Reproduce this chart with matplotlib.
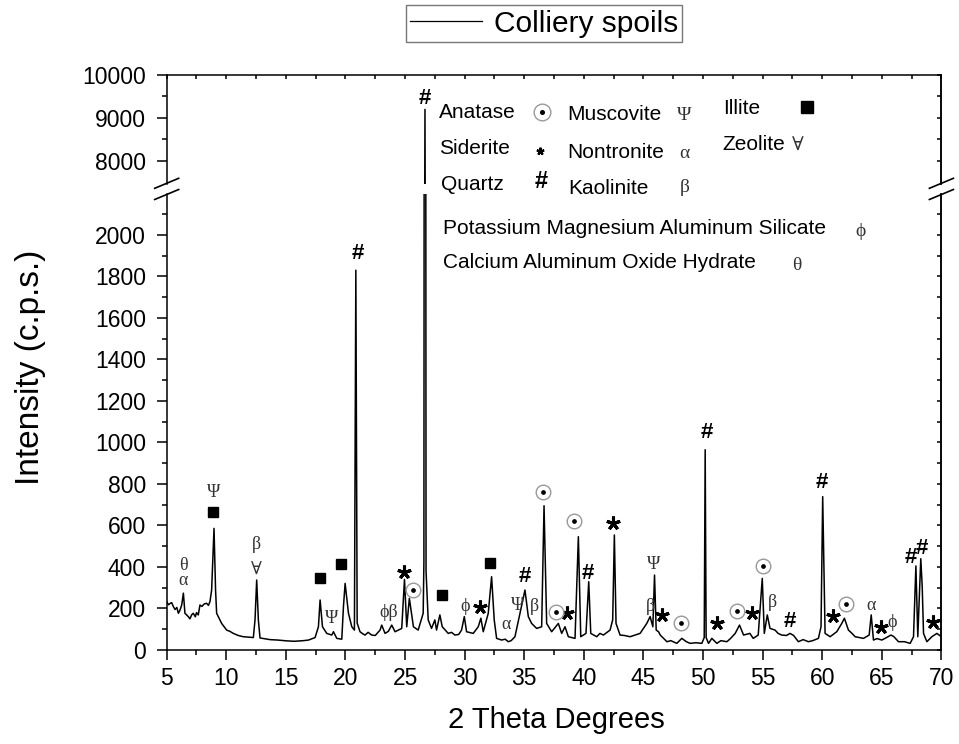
import matplotlib.pyplot as plt
from matplotlib.lines import Line2D
from matplotlib.ticker import FixedLocator, MultipleLocator

plt.rcParams['font.family'] = ['Liberation Sans', 'DejaVu Sans']
GREEK_FONT = ['Liberation Serif', 'DejaVu Serif']

# XRD pattern of the colliery spoils: (2-theta deg, counts)
pattern = [
    (5.0, 233), (5.15, 218), (5.3, 225), (5.42, 228), (5.56, 209), (5.7, 195),
    (5.85, 205), (5.98, 177), (6.1, 190), (6.26, 217), (6.4, 274), (6.53, 177),
    (6.81, 161), (6.95, 150), (7.1, 170), (7.23, 177), (7.4, 160), (7.5, 180),
    (7.65, 169), (7.79, 217), (7.95, 210), (8.15, 222), (8.35, 225), (8.5, 215),
    (8.63, 233), (8.77, 289), (8.97, 586), (9.1, 289), (9.19, 177), (9.61, 128),
    (9.85, 110), (10.03, 96), (10.3, 90), (10.59, 80), (11.0, 70), (11.43, 64),
    (12.27, 60), (12.41, 145), (12.55, 337), (12.69, 145), (12.83, 58), (13.67, 50),
    (14.3, 48), (15.07, 44), (15.7, 42), (16.47, 45), (16.9, 48), (17.45, 60),
    (17.73, 112), (17.87, 241), (18.07, 112), (18.43, 80), (18.85, 72), (18.99, 88),
    (19.27, 56), (19.69, 52), (19.83, 209), (19.97, 321), (20.25, 177), (20.53, 112),
    (20.75, 96), (20.87, 1830), (20.98, 130), (21.22, 88), (21.45, 78), (21.64, 72),
    (21.9, 85), (22.2, 72), (22.5, 70), (22.9, 96), (23.04, 120), (23.32, 80),
    (23.6, 90), (23.88, 120), (24.16, 88), (24.72, 104), (24.95, 340), (25.14, 112),
    (25.36, 249), (25.7, 112), (26.1, 96), (26.52, 177), (26.58, 420), (26.67, 9200),
    (26.76, 380), (26.94, 145), (27.22, 104), (27.5, 145), (27.64, 96), (27.92, 169),
    (28.12, 112), (28.62, 80), (28.9, 85), (29.18, 72), (29.5, 75), (29.74, 96),
    (29.97, 161), (30.16, 88), (30.72, 80), (31.14, 112), (31.36, 153), (31.56, 88),
    (31.98, 177), (32.26, 353), (32.48, 145), (32.68, 56), (33.1, 48), (33.4, 52),
    (33.66, 40), (33.9, 45), (34.22, 64), (34.64, 177), (35.06, 289), (35.34, 161),
    (35.62, 128), (36.04, 104), (36.46, 112), (36.66, 695), (36.88, 128), (37.3, 88),
    (37.86, 128), (38.14, 80), (38.42, 112), (38.7, 64), (39.26, 56), (39.54, 546),
    (39.74, 64), (40.18, 80), (40.41, 329), (40.58, 80), (41.08, 64), (41.35, 80),
    (41.64, 72), (42.2, 96), (42.42, 145), (42.56, 554), (42.7, 128), (43.04, 72),
    (43.4, 70), (43.88, 64), (44.3, 72), (44.72, 80), (45.28, 128), (45.56, 161),
    (45.79, 112), (45.93, 361), (46.07, 96), (46.27, 88), (46.41, 72), (46.97, 40),
    (47.3, 45), (47.8, 32), (48.22, 56), (48.6, 40), (48.92, 32), (49.4, 35),
    (49.9, 32), (50.1, 60), (50.18, 965), (50.26, 60), (50.46, 32), (50.74, 56),
    (51.16, 32), (51.5, 45), (52.0, 40), (52.3, 55), (52.7, 80), (53.06, 120),
    (53.4, 72), (53.93, 80), (54.21, 56), (54.63, 72), (54.97, 345), (55.14, 80),
    (55.39, 169), (55.62, 104), (56.04, 96), (56.3, 80), (56.6, 72), (57.0, 70),
    (57.3, 80), (57.6, 70), (58.0, 40), (58.4, 50), (58.84, 40), (59.2, 45),
    (59.68, 56), (59.9, 112), (60.04, 739), (60.24, 80), (60.66, 64), (61.22, 88),
    (61.64, 128), (61.86, 153), (62.2, 96), (62.5, 80), (62.76, 64), (63.1, 60),
    (63.46, 56), (63.94, 72), (64.11, 169), (64.3, 48), (64.6, 55), (65.0, 48),
    (65.4, 60), (65.76, 72), (66.0, 65), (66.4, 40), (66.9, 40), (67.38, 32),
    (67.66, 64), (67.86, 405), (68.02, 64), (68.27, 440), (68.39, 305), (68.5, 80),
    (68.78, 40), (69.2, 64), (69.62, 80), (70.0, 64),
]
two_theta = [p[0] for p in pattern]
intensity = [p[1] for p in pattern]

# phase markers placed above the peaks (2-theta, intensity)
illite_pos = [(8.91, 667), (17.86, 345), (19.6, 413), (28.12, 265), (32.12, 418)]
siderite_pos = [(24.9, 378), (31.28, 209), (38.6, 177), (42.47, 610), (46.53, 169),
                (51.14, 128), (54.08, 177), (60.87, 164), (64.92, 112), (69.26, 137)]
anatase_pos = [(25.63, 289), (36.6, 763), (37.63, 185), (39.2, 622), (48.12, 128),
               (52.82, 190), (55.0, 405), (61.99, 222)]
quartz_pos = [(21.07, 1912), (35.06, 353), (40.37, 369), (50.34, 1046), (57.29, 137),
              (60.0, 806), (67.44, 447), (68.33, 490)]
quartz_top = (26.67, 9458)
greek_labels = [('θ', 6.39, 408), ('α', 6.39, 335), ('Ψ', 8.91, 760), ('β', 12.49, 506),
                ('∀', 12.49, 382), ('Ψ', 18.84, 153), ('ϕβ', 23.59, 182), ('ϕ', 30.03, 209),
                ('α', 33.44, 125), ('Ψ', 34.41, 214), ('β', 35.84, 209), ('β', 45.56, 209),
                ('Ψ', 45.88, 414), ('β', 55.81, 228), ('α', 64.06, 212), ('ϕ', 65.9, 132)]

W, H = 959, 744
def fx(px):
    return px / W
def fy(py):
    return 1 - py / H

fig = plt.figure(figsize=(W / 100, H / 100), dpi=100)
left, right = 166.7, 941.4
ax_top = fig.add_axes([fx(left), fy(184), fx(right - left), (184 - 75) / H])
ax_bot = fig.add_axes([fx(left), fy(650), fx(right - left), (650 - 194) / H])

for ax in (ax_top, ax_bot):
    ax.plot(two_theta, intensity, color='black', lw=1.1)
    ax.set_xlim(5, 70)
    ax.xaxis.set_major_locator(MultipleLocator(5))
    ax.xaxis.set_minor_locator(MultipleLocator(2.5))
    for s in ax.spines.values():
        s.set_linewidth(1.1)
    ax.tick_params(axis='y', which='both', direction='out', left=True, right=False,
                   width=1.1, labelsize=16.5, pad=8)
    ax.tick_params(axis='y', which='major', length=7)
    ax.tick_params(axis='y', which='minor', length=3.5)
    ax.tick_params(axis='x', which='both', width=1.1)

ax_top.set_ylim(7465, 10000)
ax_top.yaxis.set_major_locator(FixedLocator([8000, 9000, 10000]))
ax_top.yaxis.set_minor_locator(FixedLocator([8500, 9500]))
ax_top.spines['bottom'].set_visible(False)
ax_top.tick_params(axis='x', which='both', bottom=False, labelbottom=False,
                   top=True, direction='in', length=3)

ax_bot.set_ylim(0, 2197)
ax_bot.yaxis.set_major_locator(FixedLocator(list(range(0, 2001, 200))))
ax_bot.yaxis.set_minor_locator(FixedLocator(list(range(100, 2101, 200))))
ax_bot.spines['top'].set_visible(False)
ax_bot.tick_params(axis='x', which='both', direction='out', labelsize=16.5, pad=5)
ax_bot.tick_params(axis='x', which='major', length=7)
ax_bot.tick_params(axis='x', which='minor', length=3.5)

# inward ticks on the right spine
for ax in (ax_top, ax_bot):
    sec = ax.secondary_yaxis('right')
    sec.yaxis.set_major_locator(ax.yaxis.get_major_locator())
    sec.yaxis.set_minor_locator(ax.yaxis.get_minor_locator())
    sec.tick_params(which='both', direction='in', length=3, width=1.1, labelright=False)
    sec.spines['right'].set_linewidth(1.1)

# break marks
for xc in (left, right):
    for yc in (183.3, 194.5):
        fig.add_artist(Line2D([fx(xc - 12), fx(xc + 12)], [fy(yc + 5), fy(yc - 5)],
                              color='black', lw=1.2, transform=fig.transFigure))

# phase markers on the peaks
ax_bot.plot([p[0] for p in illite_pos], [p[1] for p in illite_pos], 's',
            color='black', ms=7.5, ls='none')
ax_bot.plot([p[0] for p in siderite_pos], [p[1] for p in siderite_pos],
            marker=(5, 2, 0), color='black', ms=10, mew=2.2, ls='none')
ax_bot.plot([p[0] for p in anatase_pos], [p[1] for p in anatase_pos], 'o',
            mfc='white', mec='#999999', mew=1.0, ms=10.5, ls='none')
ax_bot.plot([p[0] for p in anatase_pos], [p[1] for p in anatase_pos], 'o',
            color='black', ms=2.4, ls='none')
for x, y in quartz_pos:
    ax_bot.text(x, y, '#', ha='center', va='center', fontsize=16, fontweight='bold')
ax_top.text(quartz_top[0], quartz_top[1], '#', ha='center', va='center',
            fontsize=16, fontweight='bold')
for s, x, y in greek_labels:
    ax_bot.text(x, y, s, ha='center', va='center', fontsize=13,
                family=GREEK_FONT, color='#333333')

# phase key
key = [('Anatase', 439, 113, 'ana', 542, 112), ('Muscovite', 567, 115, 'Ψ', 684, 116),
       ('Illite', 723, 108, 'sq', 807, 107), ('Siderite', 439, 149, 'star', 540, 151),
       ('Nontronite', 567, 153, 'α', 684, 153), ('Zeolite', 722, 145, '∀', 798, 145),
       ('Quartz', 441, 185, '#', 541, 182), ('Kaolinite', 568, 188, 'β', 685, 188),
       ('Potassium Magnesium Aluminum Silicate', 443, 229, 'ϕ', 860, 231),
       ('Calcium Aluminum Oxide Hydrate', 443, 263, 'θ', 797, 265)]
for name, tx, ty, sym, sx, sy in key:
    fig.text(fx(tx), fy(ty), name, ha='left', va='center', fontsize=15)
    if sym == 'ana':
        fig.add_artist(Line2D([fx(sx)], [fy(sy)], marker='o', mfc='white', mec='#999999',
                              mew=1.0, ms=12, transform=fig.transFigure))
        fig.add_artist(Line2D([fx(sx)], [fy(sy)], marker='o', color='black', ms=2.6,
                              transform=fig.transFigure))
    elif sym == 'sq':
        fig.add_artist(Line2D([fx(sx)], [fy(sy)], marker='s', color='black', ms=9,
                              transform=fig.transFigure))
    elif sym == 'star':
        fig.add_artist(Line2D([fx(sx)], [fy(sy)], marker=(5, 2, 0), color='black', ms=5.5,
                              mew=1.5, transform=fig.transFigure))
    elif sym == '#':
        fig.text(fx(sx), fy(sy), '#', ha='center', va='center', fontsize=17,
                 fontweight='bold')
    else:
        fig.text(fx(sx), fy(sy), sym, ha='center', va='center', fontsize=14,
                 family=GREEK_FONT, color='#333333')

fig.text(fx(556), fy(720), '2 Theta Degrees', ha='center', va='center', fontsize=21)
fig.text(fx(30), fy(367), 'Intensity (c.p.s.)', ha='center', va='center',
         fontsize=24, rotation=90)

leg = fig.legend(handles=[Line2D([], [], color='black', lw=0.9)], labels=['Colliery spoils'],
                 loc='center', bbox_to_anchor=(fx(544), fy(23.5)), fontsize=21.5,
                 frameon=True, fancybox=False, edgecolor='#777777', framealpha=1,
                 handlelength=2.4, handletextpad=0.4, borderpad=0.15, borderaxespad=0)
leg.get_frame().set_linewidth(1.0)

fig.savefig('out.png', dpi=100)
